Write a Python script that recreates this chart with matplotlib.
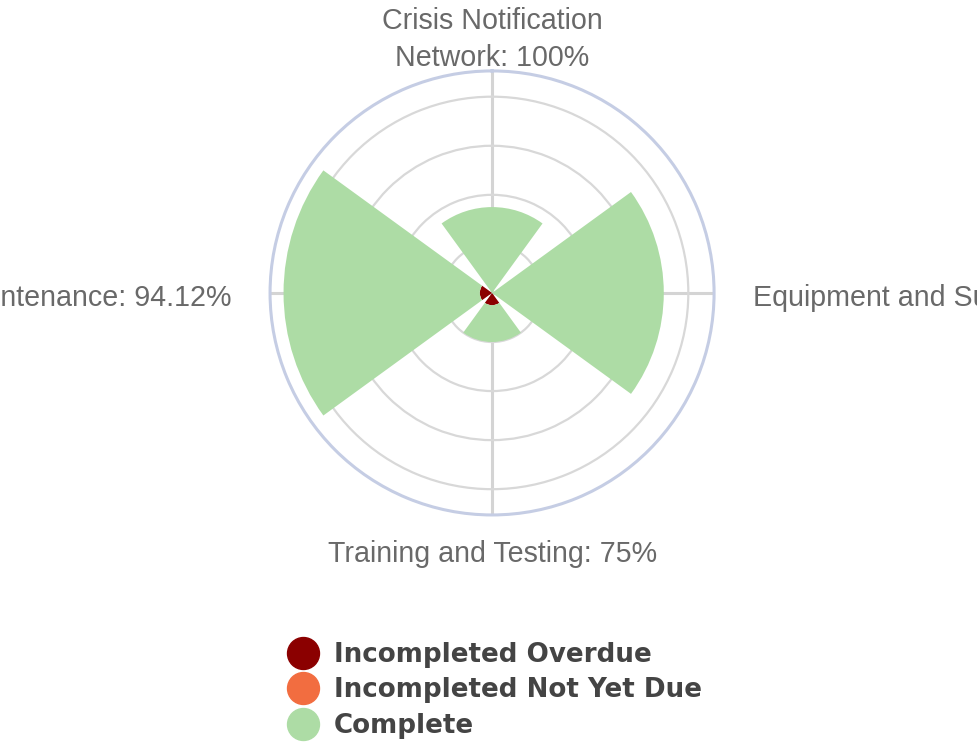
import numpy as np
import matplotlib
matplotlib.use("Agg")
import matplotlib.pyplot as plt
from matplotlib.lines import Line2D

# categories clockwise from the top
categories = ["Crisis Notification\nNetwork: 100%",
              "Equipment and Supplies: 100%",
              "Training and Testing: 75%",
              "Plan Maintenance: 94.12%"]
theta_deg = [0, 90, 180, 270]

series_names = ["Incompleted Overdue", "Incompleted Not Yet Due", "Complete"]
overdue = [0, 0, 1, 1]
not_yet_due = [0, 0, 0, 0]
complete = [7, 14, 3, 16]
colors = ["#8b0000", "#f26d40", "#addca5"]

r_ticks = [4, 8, 12, 16]
r_max = 18.1

fig = plt.figure(figsize=(9.77, 7.42), dpi=100)
ax = fig.add_axes([0.2764, 0.306, 0.4545, 0.5984], projection="polar")
ax.set_theta_zero_location("N")
ax.set_theta_direction(-1)

theta = np.deg2rad(theta_deg)
width = np.deg2rad(72)
bottom = np.zeros(len(theta))
for name, vals, col in zip(series_names, [overdue, not_yet_due, complete], colors):
    vals = np.array(vals, dtype=float)
    ax.bar(theta, vals, width=width, bottom=bottom, color=col, linewidth=0, zorder=3)
    bottom += vals

ax.set_ylim(0, r_max)
ax.set_yticks(r_ticks)
ax.set_yticklabels([])
ax.set_xticks(theta)
ax.set_xticklabels([])
ax.set_axisbelow(True)
ax.yaxis.grid(True, color="#d8d8d8", linewidth=1.6)
ax.xaxis.grid(True, color="#d4d4d4", linewidth=2.2)
ax.tick_params(axis="x", length=8, width=2, color="#d4d4d4", direction="out")
ax.spines["polar"].set_color("#c5cde4")
ax.spines["polar"].set_linewidth(2.2)

label_style = dict(fontsize=20.6, color="#696969", family="Liberation Sans",
                   linespacing=1.4, annotation_clip=False)
for t, lab in zip(theta, categories):
    deg = np.rad2deg(t)
    if deg == 0:
        xy, ha, va = (0, -0.6), "center", "bottom"
    elif deg == 180:
        xy, ha, va = (0, -18.3), "center", "top"
    elif deg == 90:
        xy, ha, va = (28, -3.5), "left", "center"
    else:
        xy, ha, va = (-28, -3.5), "right", "center"
    ax.annotate(lab, xy=(t, r_max), xytext=xy, textcoords="offset points",
                ha=ha, va=va, **label_style)

handles = [Line2D([], [], marker="o", linestyle="none", markersize=23,
                  markerfacecolor=c, markeredgecolor=c) for c in colors]
fig.legend(handles, series_names, loc="upper left", bbox_to_anchor=(0.2839, 0.1523),
           frameon=False, borderpad=0, handlelength=1.0, handletextpad=0.66,
           labelspacing=0.36,
           prop={"family": "DejaVu Sans", "size": 18.8, "weight": "bold"},
           labelcolor="#444444")

fig.savefig("out.png", dpi=100)
